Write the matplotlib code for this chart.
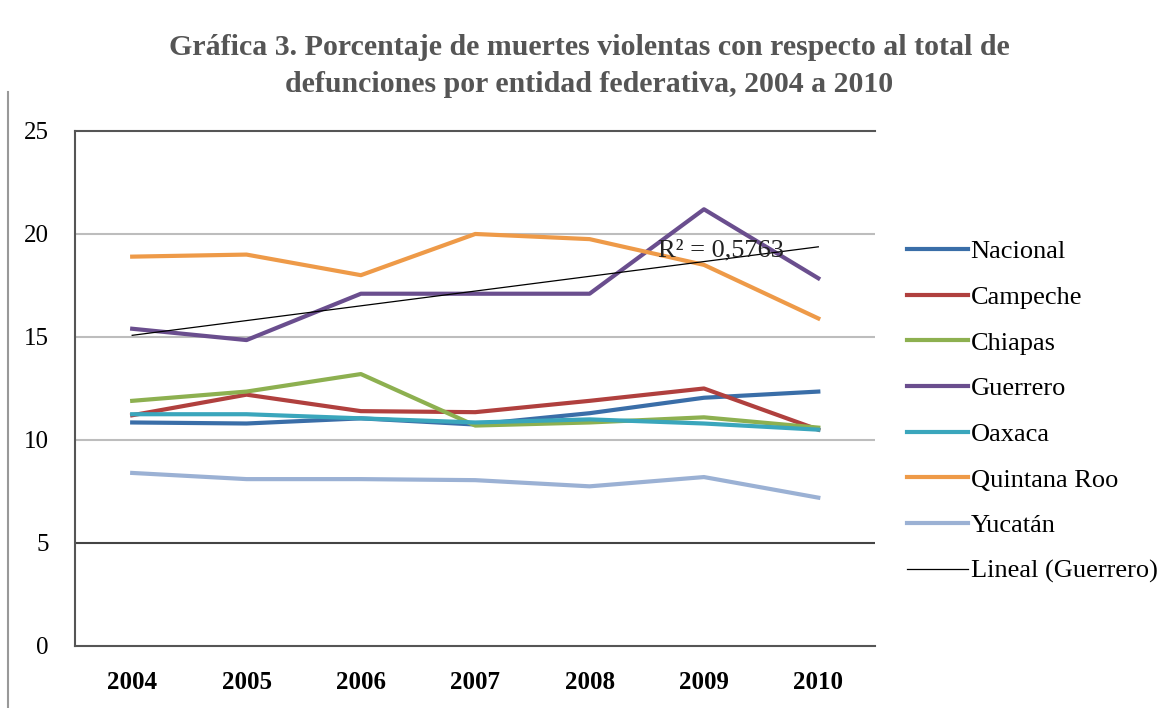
#!/usr/bin/env python3
import numpy as np
import matplotlib.pyplot as plt
from matplotlib.lines import Line2D

plt.rcParams['font.family'] = ['Liberation Serif', 'DejaVu Serif']

years = [2004, 2005, 2006, 2007, 2008, 2009, 2010]

nacional = [10.85, 10.8, 11.05, 10.75, 11.3, 12.05, 12.35]
campeche = [11.2, 12.2, 11.4, 11.35, 11.9, 12.5, 10.5]
chiapas = [11.9, 12.35, 13.2, 10.7, 10.85, 11.1, 10.6]
guerrero = [15.4, 14.85, 17.1, 17.1, 17.1, 21.2, 17.85]
oaxaca = [11.25, 11.25, 11.05, 10.85, 11.0, 10.8, 10.5]
quintana_roo = [18.9, 19.0, 18.0, 20.0, 19.75, 18.5, 15.9]
yucatan = [8.4, 8.1, 8.1, 8.05, 7.75, 8.2, 7.2]

series = [
    ("Nacional", nacional, "#3A6EA8"),
    ("Campeche", campeche, "#B0403E"),
    ("Chiapas", chiapas, "#8DB050"),
    ("Guerrero", guerrero, "#6A4E8E"),
    ("Oaxaca", oaxaca, "#3AA6BC"),
    ("Quintana Roo", quintana_roo, "#EE9A48"),
    ("Yucatán", yucatan, "#9BB1D4"),
]

title = ("Gráfica 3. Porcentaje de muertes violentas con respecto al total de\n"
         "defunciones por entidad federativa, 2004 a 2010")

fig = plt.figure(figsize=(11.72, 7.08), dpi=100)
ax = fig.add_axes([0.064, 0.0876, 0.683, 0.7274])

x = np.arange(len(years))

for yv in [10, 15, 20]:
    ax.axhline(yv, color="#BDBDBD", lw=1.5, zorder=0)
ax.axhline(5, color="#444444", lw=1.5, zorder=0)

for name, vals, col in series:
    ax.plot(x, vals, color=col, lw=3, label=name)

# linear trend of Guerrero
coef = np.polyfit(x, guerrero, 1)
xt = np.array([x[0], x[-1]])
ax.plot(xt, np.polyval(coef, xt), color="black", lw=0.9, label="Lineal (Guerrero)")
ax.text(4.6, 19.2, "R² = 0,5763", fontsize=19, color="#222222", va="center")

ax.set_xlim(-0.5, len(years) - 0.5)
ax.set_ylim(0, 25)
ax.set_yticks([0, 5, 10, 15, 20, 25])
ax.set_xticks(x)
ax.set_xticklabels([str(y) for y in years], fontweight="bold")
ax.tick_params(axis="x", length=0, labelsize=18, pad=18)
ax.tick_params(axis="y", length=0, labelsize=18, pad=19)

for s in ["left", "bottom", "top"]:
    ax.spines[s].set_color("#555555")
    ax.spines[s].set_linewidth(1.5)
ax.spines["right"].set_visible(False)

fig.text(0.503, 0.907, title, ha="center", va="center", fontsize=21.5,
         fontweight="bold", color="#555555", linespacing=1.5)

ax.legend(loc="center left", bbox_to_anchor=(1.01, 0.455), frameon=False,
          fontsize=19, handlelength=2.3, handletextpad=0.1, labelspacing=0.84)

fig.add_artist(Line2D([0.007, 0.007], [0, 0.87], color="#999999", lw=1.5))

fig.savefig("out.png", dpi=100)
